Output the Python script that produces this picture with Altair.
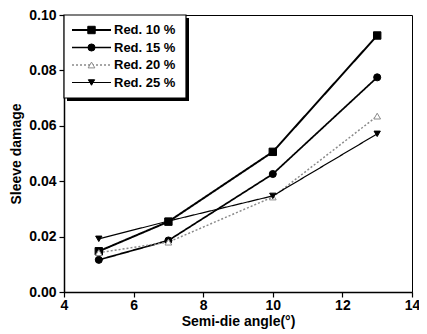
import altair as alt
import pandas as pd

# ---- data ----
angles = [5, 7, 10, 13]
series_names = ["Red. 10 %", "Red. 15 %", "Red. 20 %", "Red. 25 %"]
red10 = [0.0147, 0.0254, 0.0506, 0.0926]
red15 = [0.0116, 0.0186, 0.0426, 0.0775]
red20 = [0.0142, 0.0180, 0.0343, 0.0635]
red25 = [0.0192, 0.0256, 0.0347, 0.0571]
x_ticks = [4, 5, 6, 7, 8, 9, 10, 11, 12, 13, 14]
y_ticks = [0.00, 0.01, 0.02, 0.03, 0.04, 0.05, 0.06, 0.07, 0.08, 0.09, 0.10]

rows = []
for name, vals in zip(series_names, [red10, red15, red20, red25]):
    for a, v in zip(angles, vals):
        rows.append({"series": name, "angle": a, "damage": v})
df = pd.DataFrame(rows)
leg = pd.DataFrame({"series": series_names, "row": list(range(len(series_names)))})

W, H = 348, 277
FONT = "Liberation Sans"

color_sc = alt.Scale(domain=series_names, range=["black", "black", "#8a8a8a", "black"])
dash_sc = alt.Scale(domain=series_names, range=[[1, 0], [1, 0], [2, 2], [1, 0]])
width_sc = alt.Scale(domain=series_names, range=[2.0, 1.2, 1.0, 1.5])
shape_sc = alt.Scale(domain=series_names, range=["square", "circle", "triangle-up", "triangle-down"])
fill_sc = alt.Scale(domain=series_names, range=["black", "black", "white", "black"])
size_sc = alt.Scale(domain=series_names, range=[55, 40, 45, 45])

xax = alt.Axis(
    values=x_ticks,
    labelExpr="datum.value % 2 == 0 ? datum.label : ''",
    tickSize={"condition": {"test": "datum.value % 2 == 0", "value": 5}, "value": 3},
    format="d", grid=False, labelFlush=False, labelPadding=1,
    title="Semi-die angle(°)", titlePadding=2,
)
yax = alt.Axis(
    values=y_ticks,
    labelExpr="round(datum.value*100) % 2 == 0 ? format(datum.value, '.2f') : ''",
    tickSize={"condition": {"test": "round(datum.value*100) % 2 == 0", "value": 5}, "value": 3},
    grid=False, labelFlush=False, labelPadding=3,
    title="Sleeve damage", titlePadding=5,
)

X = alt.X("angle:Q", scale=alt.Scale(domain=[4, 14], nice=False, zero=False), axis=xax)
Y = alt.Y("damage:Q", scale=alt.Scale(domain=[0, 0.10], nice=False), axis=yax)

enc_style = dict(
    color=alt.Color("series:N", scale=color_sc, legend=None),
    strokeDash=alt.StrokeDash("series:N", scale=dash_sc, legend=None),
    strokeWidth=alt.StrokeWidth("series:N", scale=width_sc, legend=None),
)

lines = alt.Chart(df).mark_line().encode(x=X, y=Y, **enc_style)
points = alt.Chart(df).mark_point(opacity=1, strokeWidth=1).encode(
    x="angle:Q", y="damage:Q",
    shape=alt.Shape("series:N", scale=shape_sc, legend=None),
    fill=alt.Fill("series:N", scale=fill_sc, legend=None),
    color=alt.Color("series:N", scale=color_sc, legend=None),
    size=alt.Size("series:N", scale=size_sc, legend=None),
)

# ---- manual legend (box with shadow) ----
row_px = "15 + datum.row * 17.5"
leg_base = alt.Chart(leg).transform_calculate(
    damage=f"0.1 * (1 - ({row_px}) / {H})"
)
shadow = alt.Chart(alt.Data(values=[{}])).mark_rect(fill="black").encode(
    x=alt.value(3), x2=alt.value(125), y=alt.value(3), y2=alt.value(86)
)
box = alt.Chart(alt.Data(values=[{}])).mark_rect(fill="white", stroke="black", strokeWidth=1.2).encode(
    x=alt.value(0), x2=alt.value(122), y=alt.value(0), y2=alt.value(83)
)
leg_lines = leg_base.mark_rule().encode(
    x=alt.value(8), x2=alt.value(47), y="damage:Q", **enc_style
)
leg_pts = leg_base.mark_point(opacity=1, strokeWidth=1).encode(
    x=alt.value(27.5), y="damage:Q",
    shape=alt.Shape("series:N", scale=shape_sc, legend=None),
    fill=alt.Fill("series:N", scale=fill_sc, legend=None),
    color=alt.Color("series:N", scale=color_sc, legend=None),
    size=alt.Size("series:N", scale=size_sc, legend=None),
)
leg_text = leg_base.mark_text(align="left", baseline="middle", font=FONT,
                              fontSize=13, fontWeight="bold", color="black").encode(
    x=alt.value(50), y="damage:Q", text="series:N"
)

chart = alt.layer(lines, points, shadow, box, leg_lines, leg_pts, leg_text).properties(
    width=W, height=H,
    autosize=alt.AutoSizeParams(type="none"),
    padding={"left": 56, "top": 7, "right": 7, "bottom": 37},
).configure_view(
    stroke="black", strokeWidth=1
).configure_axis(
    labelFont=FONT, labelFontSize=14, labelFontWeight="bold", labelColor="black",
    titleFont=FONT, titleFontSize=14, titleFontWeight="bold", titleColor="black",
    domainColor="black", domainWidth=1.5, tickColor="black", tickWidth=1.2,
)

chart.save("out.html", embed_options={"renderer": "svg", "actions": False})
